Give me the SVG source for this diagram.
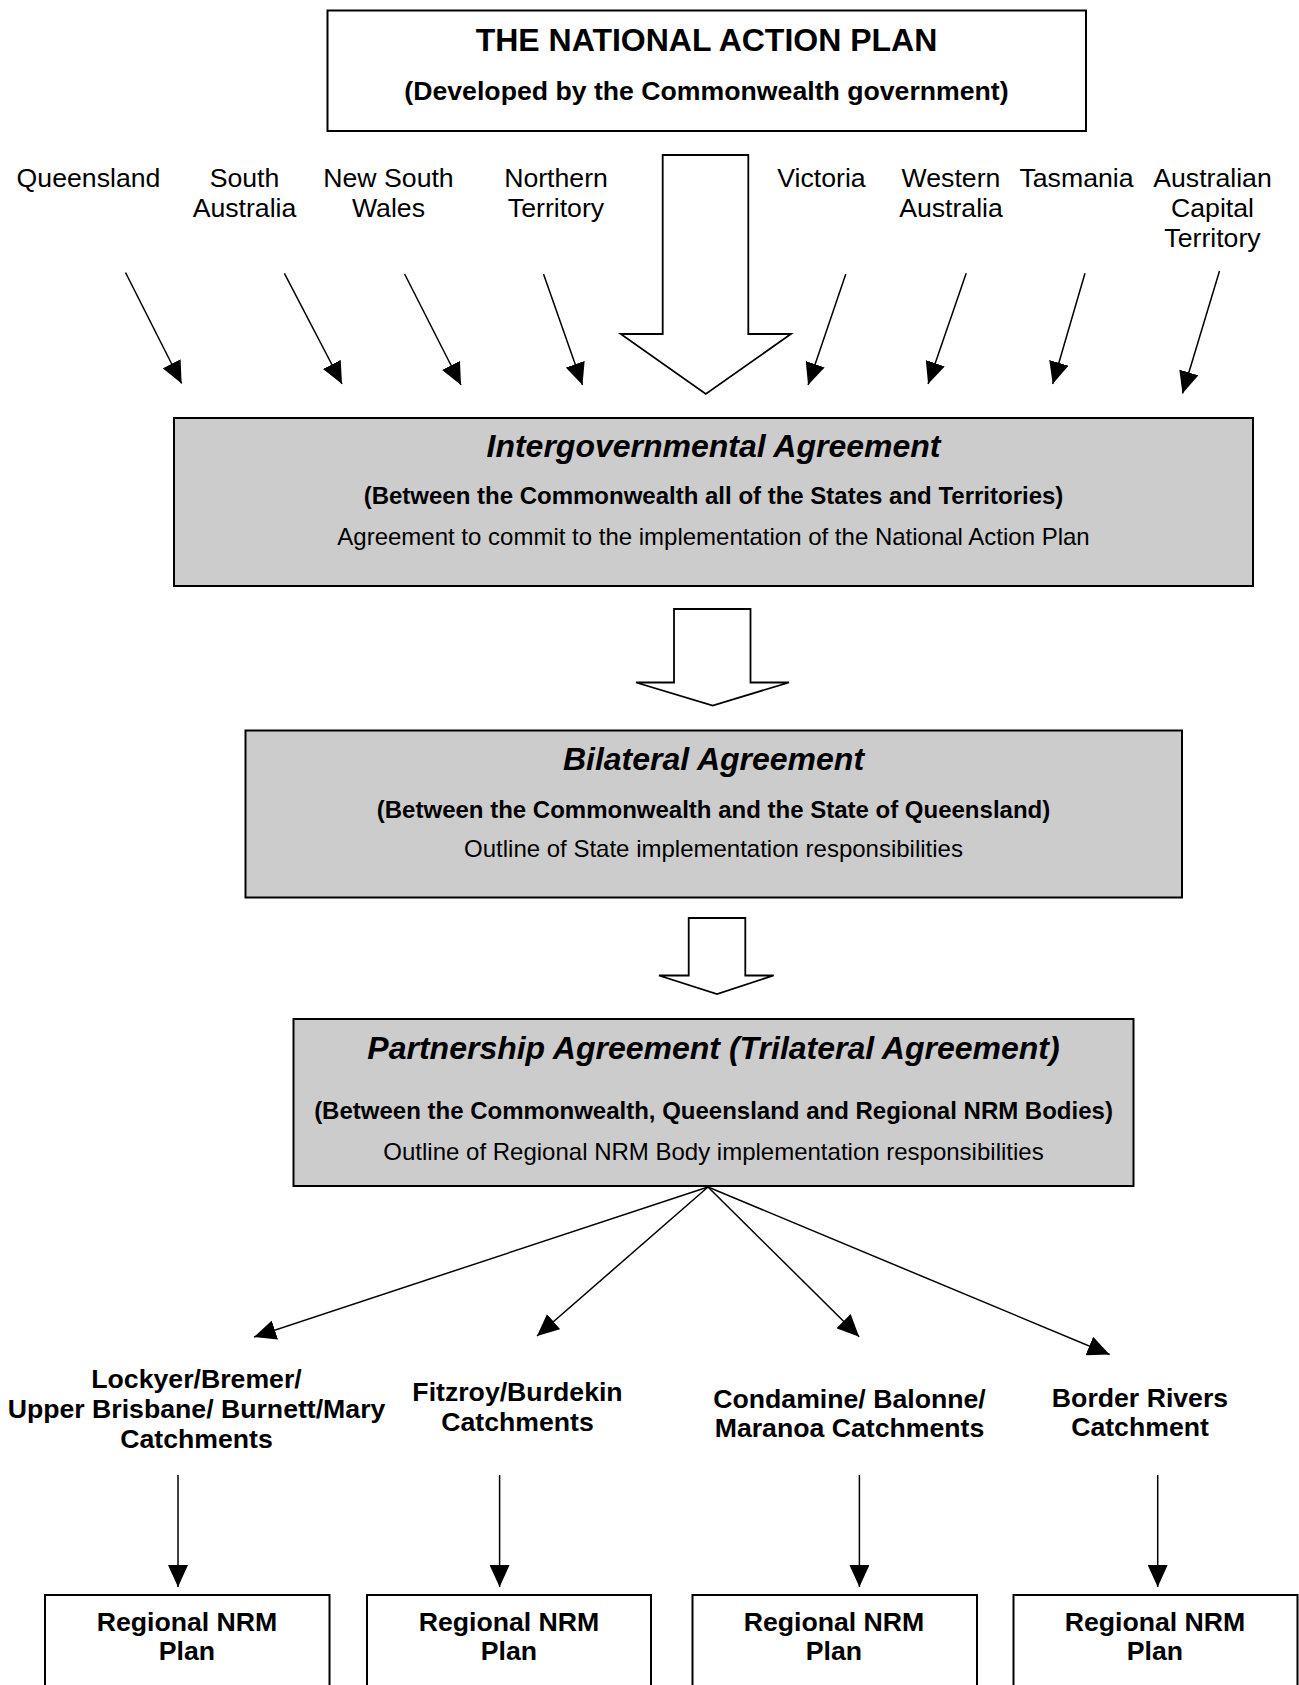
<svg xmlns="http://www.w3.org/2000/svg" width="1299" height="1685" viewBox="0 0 1299 1685">
  <defs>
    <marker id="head" viewBox="0 0 22 20" refX="22" refY="10" markerWidth="22" markerHeight="20" markerUnits="userSpaceOnUse" orient="auto">
      <path d="M0,0 L22,10 L0,20 Z" fill="#000"/>
    </marker>
    <style>
      text { font-family: "Liberation Sans", Arial, sans-serif; fill: #000; text-anchor: middle; }
      .box { fill: #fff; stroke: #000; stroke-width: 2; }
      .grey { fill: #cccccc; stroke: #000; stroke-width: 2; }
      .block { fill: #fff; stroke: #000; stroke-width: 1.8; stroke-linejoin: miter; }
      .line { fill: none; stroke: #000; stroke-width: 1.5; marker-end: url(#head); }
      .t32 { font-size: 32px; font-weight: bold; }
      .hd { font-size: 32px; font-weight: bold; font-style: italic; }
      .sub { font-size: 24px; font-weight: bold; }
      .body { font-size: 24px; }
      .state { font-size: 26.67px; }
      .b20 { font-size: 26.67px; font-weight: bold; }
    </style>
  </defs>

  <rect width="1299" height="1685" fill="#fff"/>

  <!-- National Action Plan -->
  <g id="national-action-plan">
    <rect class="box" x="327.5" y="10.5" width="758.5" height="120.5"/>
    <text class="t32" x="706.5" y="50.5">THE NATIONAL ACTION PLAN</text>
    <text class="b20" x="706.5" y="99.5">(Developed by the Commonwealth government)</text>
  </g>

  <!-- States and territories -->
  <g id="queensland"><text class="state" x="88.5" y="186.5">Queensland</text></g>
  <g id="south-australia">
    <text class="state" x="244.5" y="186.5">South</text>
    <text class="state" x="244.5" y="216.5">Australia</text>
  </g>
  <g id="new-south-wales">
    <text class="state" x="388.5" y="186.5">New South</text>
    <text class="state" x="388.5" y="216.5">Wales</text>
  </g>
  <g id="northern-territory">
    <text class="state" x="556" y="186.5">Northern</text>
    <text class="state" x="556" y="216.5">Territory</text>
  </g>
  <g id="victoria"><text class="state" x="821.5" y="186.5">Victoria</text></g>
  <g id="western-australia">
    <text class="state" x="951" y="186.5">Western</text>
    <text class="state" x="951" y="216.5">Australia</text>
  </g>
  <g id="tasmania"><text class="state" x="1076.5" y="186.5">Tasmania</text></g>
  <g id="act">
    <text class="state" x="1212.5" y="186.5">Australian</text>
    <text class="state" x="1212.5" y="216.5">Capital</text>
    <text class="state" x="1212.5" y="246.5">Territory</text>
  </g>

  <!-- Intergovernmental Agreement -->
  <g id="intergovernmental-agreement">
    <rect class="grey" x="174" y="418" width="1079" height="168"/>
    <text class="hd" x="713.5" y="457">Intergovernmental Agreement</text>
    <text class="sub" x="713.5" y="503.5">(Between the Commonwealth all of the States and Territories)</text>
    <text class="body" x="713.5" y="545">Agreement to commit to the implementation of the National Action Plan</text>
  </g>

  <!-- Bilateral Agreement -->
  <g id="bilateral-agreement">
    <rect class="grey" x="245.5" y="730.5" width="936.5" height="167"/>
    <text class="hd" x="713.5" y="769.5">Bilateral Agreement</text>
    <text class="sub" x="713.5" y="818">(Between the Commonwealth and the State of Queensland)</text>
    <text class="body" x="713.5" y="856.5">Outline of State implementation responsibilities</text>
  </g>

  <!-- Partnership Agreement -->
  <g id="partnership-agreement">
    <rect class="grey" x="293.5" y="1019" width="840" height="167"/>
    <text class="hd" x="713.5" y="1058.5">Partnership Agreement (Trilateral Agreement)</text>
    <text class="sub" x="713.5" y="1118.5">(Between the Commonwealth, Queensland and Regional NRM Bodies)</text>
    <text class="body" x="713.5" y="1159.5">Outline of Regional NRM Body implementation responsibilities</text>
  </g>

  <!-- Catchment groups -->
  <g id="lockyer-burnett">
    <text class="b20" x="196.5" y="1388">Lockyer/Bremer/</text>
    <text class="b20" x="196.5" y="1418">Upper Brisbane/ Burnett/Mary</text>
    <text class="b20" x="196.5" y="1448">Catchments</text>
  </g>
  <g id="fitzroy-burdekin">
    <text class="b20" x="517.5" y="1401">Fitzroy/Burdekin</text>
    <text class="b20" x="517.5" y="1431">Catchments</text>
  </g>
  <g id="condamine-maranoa">
    <text class="b20" x="849.5" y="1407.5">Condamine/ Balonne/</text>
    <text class="b20" x="849.5" y="1437">Maranoa Catchments</text>
  </g>
  <g id="border-rivers">
    <text class="b20" x="1140" y="1406.5">Border Rivers</text>
    <text class="b20" x="1140" y="1435.5">Catchment</text>
  </g>

  <!-- Regional NRM plans -->
  <g id="plan-1">
    <rect class="box" x="45" y="1595" width="284.5" height="110"/>
    <text class="b20" x="187" y="1631">Regional NRM</text>
    <text class="b20" x="187" y="1659.5">Plan</text>
  </g>
  <g id="plan-2">
    <rect class="box" x="367" y="1595" width="284" height="110"/>
    <text class="b20" x="509" y="1631">Regional NRM</text>
    <text class="b20" x="509" y="1659.5">Plan</text>
  </g>
  <g id="plan-3">
    <rect class="box" x="692.5" y="1595" width="284.5" height="110"/>
    <text class="b20" x="834" y="1631">Regional NRM</text>
    <text class="b20" x="834" y="1659.5">Plan</text>
  </g>
  <g id="plan-4">
    <rect class="box" x="1013.5" y="1595" width="284" height="110"/>
    <text class="b20" x="1155" y="1631">Regional NRM</text>
    <text class="b20" x="1155" y="1659.5">Plan</text>
  </g>

  <!-- Connectors -->
  <g id="connectors">
    <!-- block arrows -->
    <path class="block" d="M662.7,155 L748.3,155 L748.3,334 L791,334 L705.8,394 L620.7,334 L662.7,334 Z"/>
    <path class="block" d="M674,609 L750.5,609 L750.5,682.5 L789,682.5 L712.7,705.5 L636,682.5 L674,682.5 Z"/>
    <path class="block" d="M688.7,918 L745.3,918 L745.3,975.5 L773.7,975.5 L717,994 L659,975.5 L688.7,975.5 Z"/>

    <!-- states to the agreement -->
    <line class="line" x1="125.5" y1="272.5" x2="181.6" y2="383.5"/>
    <line class="line" x1="284.4" y1="273.3" x2="342" y2="384"/>
    <line class="line" x1="404.6" y1="274" x2="461" y2="385"/>
    <line class="line" x1="543.5" y1="274" x2="582.5" y2="385"/>
    <line class="line" x1="845.8" y1="274" x2="808.1" y2="385"/>
    <line class="line" x1="966.2" y1="273.3" x2="928.1" y2="384"/>
    <line class="line" x1="1085" y1="273.3" x2="1052.7" y2="384"/>
    <line class="line" x1="1219.5" y1="271" x2="1182.5" y2="393.5"/>

    <!-- partnership to catchments -->
    <line class="line" x1="708" y1="1187" x2="254" y2="1337"/>
    <line class="line" x1="708" y1="1187" x2="537" y2="1336"/>
    <line class="line" x1="708" y1="1187" x2="859.2" y2="1336.7"/>
    <line class="line" x1="708" y1="1187" x2="1109.6" y2="1354.5"/>

    <!-- catchments to plans -->
    <line class="line" x1="178" y1="1475" x2="178" y2="1587"/>
    <line class="line" x1="499.6" y1="1475" x2="499.6" y2="1587"/>
    <line class="line" x1="859.4" y1="1475" x2="859.4" y2="1587"/>
    <line class="line" x1="1157.7" y1="1475" x2="1157.7" y2="1587"/>
  </g>
</svg>
